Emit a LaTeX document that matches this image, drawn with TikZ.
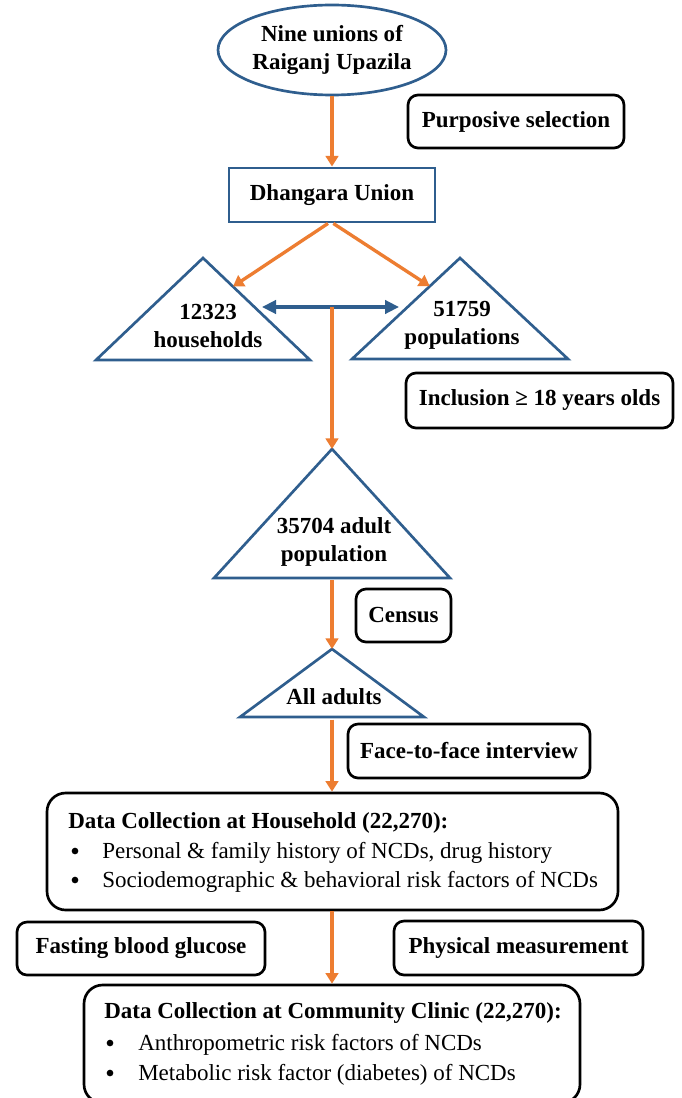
\documentclass[tikz,border=0pt]{standalone}
\usepackage{fontspec}
\setmainfont{Liberation Serif}
\usetikzlibrary{arrows.meta,shapes.geometric,calc}
\definecolor{bl}{HTML}{2F5E8E}
\definecolor{orng}{HTML}{ED7D31}
\begin{document}
\begin{tikzpicture}[x=0.75pt,y=-0.75pt,
  bt/.style={font=\fontsize{17.25}{21}\selectfont\bfseries, align=center, inner sep=0pt},
  rt/.style={font=\fontsize{17.25}{21}\selectfont, inner sep=0pt, anchor=west},
  dot/.style={circle, fill=black, inner sep=0pt, minimum size=5pt},
  rbox/.style={draw=black, line width=2pt, rounded corners=7.5pt, inner sep=0pt,
    font=\fontsize{17.25}{21}\selectfont\bfseries, align=center},
  bigbox/.style={draw=black, line width=2pt, rounded corners=14pt, inner sep=0pt},
  tri/.style={draw=bl, line width=2pt, line join=miter},
  oarr/.style={draw=orng, line width=2.5pt, -{Triangle[length=8pt,width=9.5pt]}},
  barr/.style={draw=bl, line width=2.4pt, {Triangle[length=10.5pt,width=10pt]}-{Triangle[length=10.5pt,width=10pt]}}]
\useasboundingbox (0,0) rectangle (681,1098);
\fill[white] (0,0) rectangle (681,1098);

% top ellipse and union box
\node[ellipse, draw=bl, line width=2pt, minimum width=171pt, minimum height=67.5pt,
  bt] (ell) at (332,50) {Nine unions of\\Raiganj Upazila};
\node[rbox, minimum width=162pt, minimum height=39.75pt] (purp) at (516,121.5) {Purposive selection};
\node[draw=bl, line width=2.2pt, minimum width=154.5pt, minimum height=40.5pt, bt] (dhang) at (332,195) {Dhangara Union};

% triangles
\coordinate (tLa) at (203,258); \coordinate (tLl) at (96,360); \coordinate (tLr) at (310,360);
\coordinate (tRa) at (460,258); \coordinate (tRl) at (352,359); \coordinate (tRr) at (568,359);
\coordinate (tAa) at (332,449); \coordinate (tAl) at (214,578); \coordinate (tAr) at (450,578);
\coordinate (tBa) at (332,649); \coordinate (tBl) at (240,717); \coordinate (tBr) at (424,717);
\draw[tri] (tLa) -- (tLr) -- (tLl) -- cycle;
\draw[tri] (tRa) -- (tRr) -- (tRl) -- cycle;
\draw[tri] (tAa) -- (tAr) -- (tAl) -- cycle;
\draw[tri] (tBa) -- (tBr) -- (tBl) -- cycle;

\node[bt] (hh) at (208,326) {12323\\households};
\node[bt] (pop) at (462,325) {51759\\populations};
\node[bt] (adult) at (334,542) {35704 adult\\population};
\node[bt] (all) at (334,697) {All adults};

% side boxes
\node[rbox, minimum width=200.25pt, minimum height=41.25pt] (incl) at (539.5,400.5) {Inclusion \symbol{"2265} 18 years olds};
\node[rbox, minimum width=71.25pt, minimum height=39.75pt] (census) at (403.5,615.5) {Census};
\node[rbox, minimum width=181.5pt, minimum height=40.5pt] (face) at (469,751) {Face-to-face interview};

% household box
\node[bigbox, minimum width=428.25pt, minimum height=87.75pt] (house) at (332.5,851.5) {};
\node[bt, anchor=west] (houseT) at (68,823) {Data Collection at Household (22,270):};
\node[dot] (hb1) at (75,851) {};
\node[rt] (ht1) at (102,853) {Personal \& family history of NCDs, drug history};
\node[dot] (hb2) at (75,880) {};
\node[rt] (ht2) at (102,882) {Sociodemographic \& behavioral risk factors of NCDs};

\node[rbox, minimum width=186pt, minimum height=39.75pt] (fast) at (141,948.5) {Fasting blood glucose};
\node[rbox, minimum width=186.75pt, minimum height=40.5pt] (phys) at (518.5,948) {Physical measurement};

% community box
\node[bigbox, minimum width=372pt, minimum height=88.5pt] (comm) at (332,1044) {};
\node[bt, anchor=west] (commT) at (104,1013) {Data Collection at Community Clinic (22,270):};
\node[dot] (cb1) at (110,1043) {};
\node[rt] (ct1) at (138,1045) {Anthropometric risk factors of NCDs};
\node[dot] (cb2) at (110,1073) {};
\node[rt] (ct2) at (138,1075) {Metabolic risk factor (diabetes) of NCDs};

% connectors
\coordinate (hhtip) at ($(tLa)!0.28!(tLr)$);
\coordinate (poptip) at ($(tRa)!0.28!(tRl)$);
\coordinate (hhL) at (262,307);
\coordinate (popR) at (399,307);
\coordinate (mid) at (332,307);
\draw[oarr] (ell.south) -- (dhang.north);
\draw[oarr] ([xshift=-3pt]dhang.south) -- (hhtip);
\draw[oarr] ([xshift=1pt]dhang.south) -- (poptip);
\draw[barr] (hhL) -- (popR);
\draw[oarr] (mid) -- (tAa);
\draw[oarr] ([yshift=-1.5pt]$(tAl)!0.5!(tAr)$) -- (tBa);
\draw[oarr] ([yshift=-2pt]$(tBl)!0.5!(tBr)$) -- (house.north -| tBa);
\draw[oarr] (house.south -| tBa) -- (comm.north -| tBa);
\end{tikzpicture}
\end{document}
